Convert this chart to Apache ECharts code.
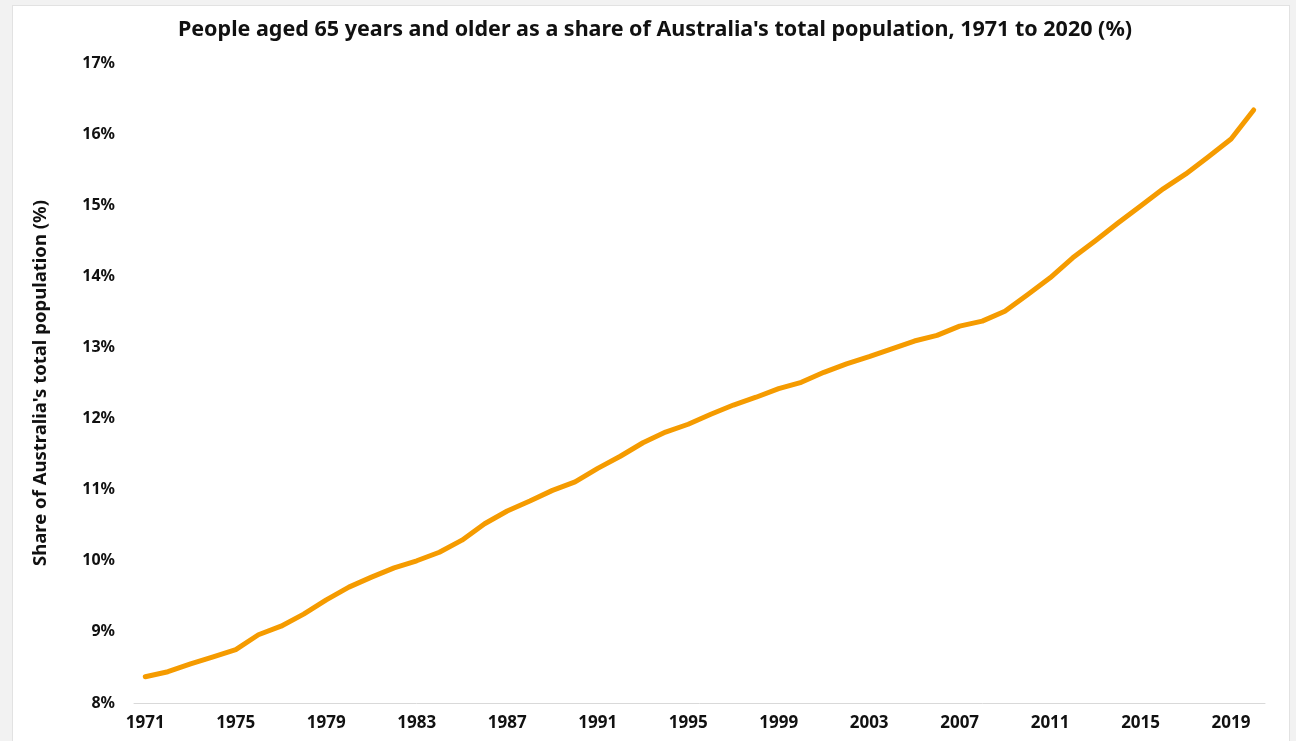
<!DOCTYPE html>
<html>
<head>
<meta charset="utf-8">
<script src="https://cdn.jsdelivr.net/npm/echarts@6/dist/echarts.min.js"></script>
<style>
  html, body { margin: 0; padding: 0; background: #f2f2f2; }
  .card {
    position: absolute; left: 12px; top: 5px; width: 1276px; height: 745px;
    background: #fff; border: 1px solid #e2e2e2;
  }
  #chart { position: absolute; left: 0; top: 0; width: 1296px; height: 741px; }
</style>
</head>
<body>
<div class="card"></div>
<div id="chart"></div>
<script>
// years 1971..2020
const years = [];
for (let y = 1971; y <= 2020; y++) years.push(String(y));

// share of population aged 65+ (%)
const share = [
  8.37, 8.44, 8.55, 8.65, 8.75, 8.96, 9.08, 9.25, 9.45, 9.63,
  9.77, 9.90, 10.00, 10.12, 10.29, 10.52, 10.70, 10.84, 10.99, 11.11,
  11.30, 11.47, 11.66, 11.81, 11.92, 12.06, 12.19, 12.30, 12.42, 12.51,
  12.65, 12.77, 12.87, 12.98, 13.09, 13.17, 13.30, 13.37, 13.51, 13.74,
  13.98, 14.26, 14.50, 14.75, 14.99, 15.23, 15.44, 15.68, 15.93, 16.34
];

const font = '"Noto Sans", sans-serif';
const chart = echarts.init(document.getElementById('chart'));

chart.setOption({
  backgroundColor: 'transparent',
  animation: false,
  title: {
    text: "People aged 65 years and older as a share of Australia's total population, 1971 to 2020 (%)",
    left: 650,
    textAlign: 'center',
    top: 14,
    textStyle: { fontFamily: font, fontSize: 21.5, fontWeight: 'bold', color: '#111' }
  },
  grid: { left: 134, right: 31, top: 63, bottom: 38 },
  xAxis: {
    type: 'category',
    data: years,
    boundaryGap: true,
    axisLine: { lineStyle: { color: '#d9d9d9', width: 1 } },
    axisTick: { show: false },
    axisLabel: {
      interval: 3,
      margin: 12,
      fontFamily: font, fontSize: 17, fontWeight: 'bold', color: '#111'
    }
  },
  yAxis: {
    type: 'value',
    min: 8,
    max: 17,
    interval: 1,
    name: "Share of Australia's total population (%)",
    nameLocation: 'middle',
    nameGap: 84,
    nameTextStyle: { fontFamily: font, fontSize: 18.5, fontWeight: 'bold', color: '#111' },
    axisLine: { show: false },
    axisTick: { show: false },
    splitLine: { show: false },
    axisLabel: {
      margin: 19,
      formatter: '{value}%',
      fontFamily: font, fontSize: 16, fontWeight: 'bold', color: '#111'
    }
  },
  series: [{
    type: 'line',
    data: share,
    showSymbol: false,
    lineStyle: { color: '#f59b00', width: 5, cap: 'round', join: 'round' },
    itemStyle: { color: '#f59b00' }
  }]
});
</script>
</body>
</html>
